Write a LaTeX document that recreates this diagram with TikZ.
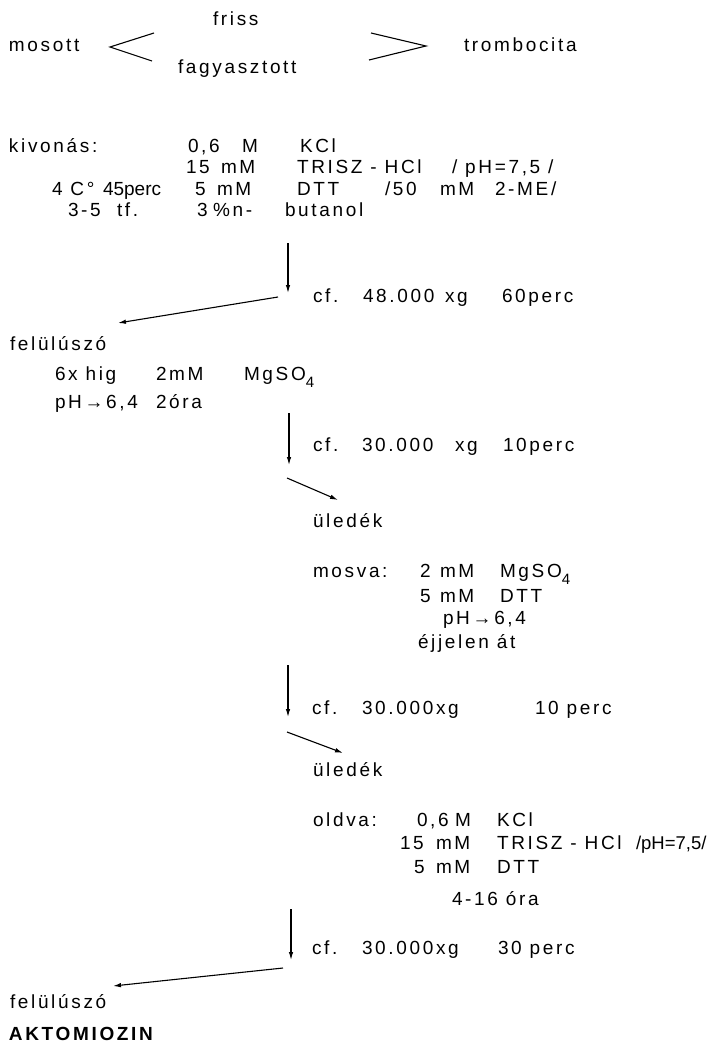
\documentclass[tikz,border=0pt]{standalone}
\usepackage{fontspec}
\setmainfont[LetterSpace=14]{Liberation Sans}
\usetikzlibrary{arrows.meta}
\tikzset{
  t/.style={anchor=base west, inner sep=0pt, outer sep=0pt, font=\fontsize{19}{21}\selectfont},
  tt/.style={t, font=\fontsize{19}{21}\selectfont\addfontfeature{LetterSpace=0}},
  arr/.style={line width=1.1pt, -{Latex[length=8pt,width=4.5pt]}},
  chev/.style={line width=1.1pt, line join=miter}
}
\newcommand{\subfour}{\raisebox{-7pt}{\fontsize{15}{15}\selectfont 4}}
\begin{document}
\begin{tikzpicture}[x=1pt,y=-1pt]
\useasboundingbox (0,0) rectangle (710,1054);
% top row
\node[t] (mosott) at (9,52) {mosott};
\node[t] (friss) at (213,26) {friss};
\node[t] (fagy) at (178,74) {fagyasztott};
\node[t] (tromb) at (464,52) {trombocita};
\coordinate (lt1) at (154,33); \coordinate (lv) at (110,47); \coordinate (lt2) at (152,61);
\coordinate (gt1) at (371,33); \coordinate (gv) at (426,46); \coordinate (gt2) at (369,60);
\draw[chev] (lt1) -- (lv) -- (lt2);
\draw[chev] (gt1) -- (gv) -- (gt2);
% kivonas block
\node[t] (kiv) at (9,152) {kivonás:};
\node[t] (k1a) at (188,152) {0,6};
\node[t] (k1b) at (242,152) {M};
\node[t] (k1c) at (300,152) {KCl};
\node[t] (k2a) at (186,173) {15};
\node[t] (k2b) at (221,173) {mM};
\node[t] (k2c) at (297,173) {TRISZ - HCl};
\node[t] (k2d) at (452,173) {/ pH=7,5 /};
\node[t] (k3a) at (52,195) {4 C°};
\node[tt] (k3b) at (103,195) {45perc};
\node[t] (k3c) at (195,195) {5};
\node[t] (k3d) at (217,195) {mM};
\node[t] (k3e) at (297,195) {DTT};
\node[t] (k3f) at (385,195) {/50};
\node[t] (k3g) at (440,195) {mM};
\node[t] (k3h) at (495,195) {2-ME/};
\node[t] (k4a) at (68,216) {3-5};
\node[t] (k4b) at (117,216) {tf.};
\node[t] (k4c) at (197,216) {3};
\node[t] (k4d) at (213,216) {\%n-};
\node[t] (k4e) at (285,216) {butanol};
% centrifuge 1
\coordinate (a1s) at (288,243); \coordinate (a1e) at (288,293);
\draw[arr] (a1s) -- (a1e);
\node[t] (c1a) at (313,302) {cf.};
\node[t] (c1b) at (363,302) {48.000};
\node[t] (c1c) at (445,302) {xg};
\node[t] (c1d) at (502,302) {60perc};
\coordinate (d1s) at (278,297); \coordinate (d1e) at (118,323);
\draw[arr] (d1s) -- (d1e);
% felulusz 1
\node[t] (fel1) at (10,350) {felülúszó};
\node[t] (f1a) at (55,380) {6x hig};
\node[t] (f1b) at (156,380) {2mM};
\node[t] (f1c) at (244,380) {MgSO\subfour};
\node[t] (f2a) at (55,408) {pH→6,4};
\node[t] (f2b) at (156,408) {2óra};
% centrifuge 2
\coordinate (a2s) at (289,413); \coordinate (a2e) at (289,465);
\draw[arr] (a2s) -- (a2e);
\node[t] (c2a) at (313,451) {cf.};
\node[t] (c2b) at (362,451) {30.000};
\node[t] (c2c) at (455,451) {xg};
\node[t] (c2d) at (503,451) {10perc};
\coordinate (d2s) at (287,478); \coordinate (d2e) at (338,500);
\draw[arr] (d2s) -- (d2e);
\node[t] (ul1) at (313,527) {üledék};
% mosva
\node[t] (mos) at (313,577) {mosva:};
\node[t] (m1a) at (420,577) {2};
\node[t] (m1b) at (440,577) {mM};
\node[t] (m1c) at (500,577) {MgSO\subfour};
\node[t] (m2a) at (420,602) {5};
\node[t] (m2b) at (440,602) {mM};
\node[t] (m2c) at (500,602) {DTT};
\node[t] (m3) at (443,624) {pH→6,4};
\node[t] (m4) at (418,648) {éjjelen át};
% centrifuge 3
\coordinate (a3s) at (288,665); \coordinate (a3e) at (288,717);
\draw[arr] (a3s) -- (a3e);
\node[t] (c3a) at (312,714) {cf.};
\node[t] (c3b) at (362,714) {30.000xg};
\node[t] (c3c) at (535,714) {10 perc};
\coordinate (d3s) at (287,732); \coordinate (d3e) at (343,753);
\draw[arr] (d3s) -- (d3e);
\node[t] (ul2) at (313,776) {üledék};
% oldva
\node[t] (old) at (313,826) {oldva:};
\node[t] (o1a) at (417,826) {0,6};
\node[t] (o1b) at (455,826) {M};
\node[t] (o1c) at (497,826) {KCl};
\node[t] (o2a) at (400,849) {15};
\node[t] (o2b) at (436,849) {mM};
\node[t] (o2c) at (497,849) {TRISZ - HCl};
\node[tt, font=\fontsize{18.5}{20}\selectfont\addfontfeature{LetterSpace=0}] (o2d) at (636,849) {/pH=7,5/};
\node[t] (o3a) at (414,873) {5};
\node[t] (o3b) at (436,873) {mM};
\node[t] (o3c) at (497,873) {DTT};
\node[t] (o4) at (452,905) {4-16 óra};
% centrifuge 4
\coordinate (a4s) at (291,909); \coordinate (a4e) at (291,960);
\draw[arr] (a4s) -- (a4e);
\node[t] (c4a) at (312,954) {cf.};
\node[t] (c4b) at (362,954) {30.000xg};
\node[t] (c4c) at (498,954) {30 perc};
\coordinate (d4s) at (283,968); \coordinate (d4e) at (113,986);
\draw[arr] (d4s) -- (d4e);
\node[t] (fel2) at (10,1008) {felülúszó};
\node[t, font=\fontsize{19}{21}\selectfont\bfseries] (akt) at (9,1040) {AKTOMIOZIN};
\end{tikzpicture}
\end{document}
